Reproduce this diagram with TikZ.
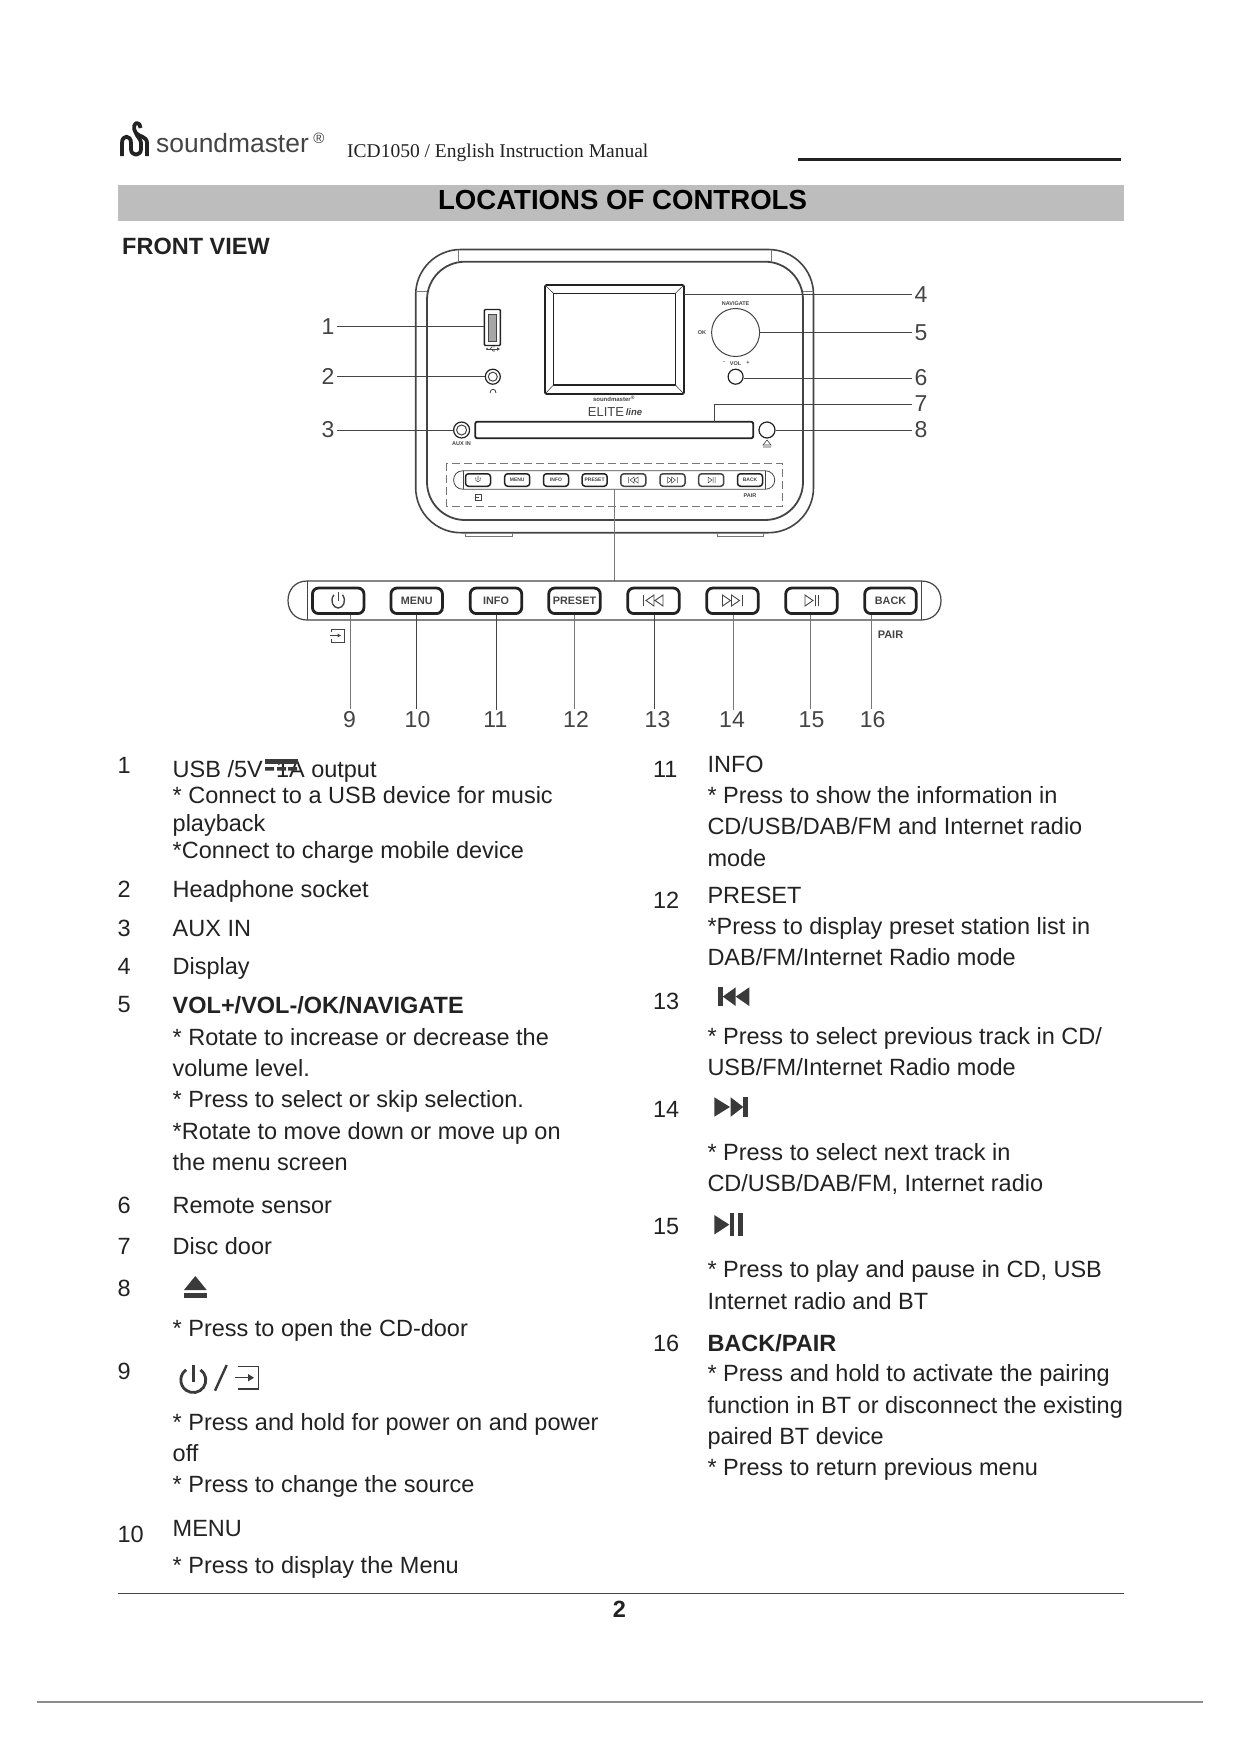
\documentclass[tikz,border=0pt]{standalone}
\usepackage{fontspec}
\setmainfont{Liberation Sans}
\newfontfamily\serifhd{Liberation Serif}
\definecolor{ink}{HTML}{222222}
\definecolor{linegray}{HTML}{444444}
\definecolor{thingray}{HTML}{777777}
\definecolor{barfill}{HTML}{BDBDBD}
\definecolor{iconink}{HTML}{3A3A3A}
\newcount\tcnt
\newcommand{\tx}[3]{\global\advance\tcnt by 1 \node[bodytext] (t\the\tcnt) at (#1,{(#2+7)*1.119}) {#3};}
\newcommand{\bfs}[1]{\fontsize{#1}{#1}\selectfont}
\tikzset{
  bodytext/.style={anchor=base west,inner sep=0pt,outer sep=0pt,text=ink,font=\bfs{23.5}},
  callout/.style={inner sep=0pt,outer sep=2.5pt,text=linegray,font=\bfs{23}},
  leader/.style={draw=linegray,line width=0.8pt},
  leaderthin/.style={draw=thingray,line width=0.8pt},
  bigbtn/.style={draw=ink,line width=2.8pt,rounded corners=6pt,minimum width=51.5pt,minimum height=25.5pt,inner sep=0pt,text=linegray,font=\bfseries\bfs{10.8}},
  smallbtn/.style={draw=ink,line width=1.5pt,rounded corners=3pt,minimum width=25pt,minimum height=12.5pt,inner sep=0pt,text=linegray,font=\bfseries\bfs{5}},
  tiny/.style={inner sep=0pt,text=linegray,font=\bfseries\bfs{5.5}},
  body/.style={draw=linegray,line width=1.6pt},
  round/.style={circle,draw=ink,line width=1.2pt,inner sep=0pt},
  icon/.style={fill=iconink,draw=none},
}
\begin{document}
\begin{tikzpicture}[x=1pt,y=-1pt]
\useasboundingbox (0,0) rectangle (1241,1754);
\fill[white] (0,0) rectangle (1241,1754);

% header
\draw[fill=none,draw=ink,line width=3.8pt,line join=round]
  (122,156) -- (122,143) .. controls (122,134.5) and (131,134.5) .. (131,143) -- (131,149)
  .. controls (131,156.5) and (141,156.5) .. (141,149) -- (141,143) .. controls (141,139) and (137,137) .. (136,133);
\draw[fill=none,draw=ink,line width=3.8pt,line join=round]
  (147,156) -- (147,143) .. controls (147,136) and (139,137) .. (136,133)
  .. controls (132,127) and (135,123) .. (137,123) .. controls (139,123) and (140.5,125) .. (140.5,128);
\node[anchor=base west,inner sep=0pt,text=linegray,font=\bfs{26.4}] (brand) at (156,152) {soundmaster};
\node[anchor=center,inner sep=0pt,text=linegray,font=\bfs{15}] (reg) at (319,138) {®};
\node[anchor=base west,inner sep=0pt,text=ink,font=\serifhd\bfs{19.5}] (hdr) at (347,157) {ICD1050 / English Instruction Manual};
\draw[ink,line width=2.2pt] (798,159.5) -- (1121,159.5);
\fill[barfill] (118,184.5) rectangle (1124,220.5);
\node[anchor=base,inner sep=0pt,text=black,font=\bfseries\bfs{27.6}] (title) at (622.5,209.5) {LOCATIONS OF CONTROLS};
\node[anchor=base west,inner sep=0pt,text=ink,font=\bfseries\bfs{23.5}] (front) at (122,254) {FRONT VIEW};

% radio body
\draw[body,rounded corners=45pt] (415.7,249.5) rectangle (813.5,532.7);
\draw[body,rounded corners=38pt,line width=1.8pt] (427,261.7) rectangle (803,520);
\draw[thingray,line width=0.5pt] (458,250) -- (458,261.7) (771.4,250) -- (771.4,261.7)
  (416,291) -- (427,291) (803,291) -- (813,291);
\draw[thingray,line width=0.8pt,fill=none] (465,532.7) -- (465,536) -- (512,536) -- (512,532.7)
  (717,532.7) -- (717,536) -- (763,536) -- (763,532.7);

% display
\node[draw=ink,line width=1.8pt,rounded corners=1.5pt,minimum width=139pt,minimum height=109pt,inner sep=0pt] (disp) at (614.5,339.5) {};
\draw[ink,line width=1.2pt] (553.4,293.3) rectangle (675.4,385);
\draw[linegray,line width=0.6pt] (545,285) -- (553.4,293.3) (684,285) -- (675.4,293.3)
  (545,394) -- (553.4,385) (684,394) -- (675.4,385);
\node[tiny,font=\bfseries\bfs{6}] (logo2) at (613.5,399) {\,soundmaster\textsuperscript{®}};
\node[inner sep=0pt,text=linegray,font=\bfs{13}] (elite) at (606,412) {ELITE};
\node[inner sep=0pt,text=linegray,font=\itshape\bfseries\bfs{9.5}] (line2) at (634,412) {line};

% USB and sockets
\node[draw=ink,line width=1.4pt,rounded corners=1pt,minimum width=16pt,minimum height=36pt,inner sep=0pt] (usb) at (492.4,327.5) {};
\draw[linegray,line width=1pt,fill=black!35] (488,314) rectangle (496.5,341);
\draw[linegray,line width=0.7pt] (487,349) -- (498,349);
\fill[linegray] (500,349) -- (497,347.3) -- (497,350.7) -- cycle;
\fill[linegray] (487,349) circle[radius=1.1pt];
\draw[linegray,line width=0.6pt] (490,349) -- (492,346.8) -- (495,346.8) (491.5,349) -- (493,351) -- (495,351);
\node[round,minimum size=15pt] (jack) at (492.8,376.7) {};
\draw[linegray,line width=1pt] (jack.center) circle[radius=4.5pt];
\draw[linegray,line width=0.8pt] (490,393) .. controls (490,388) and (496,388) .. (496,393);
\node[round,minimum size=16pt] (aux) at (461.6,430) {};
\draw[linegray,line width=1pt] (aux.center) circle[radius=5pt];
\node[tiny] (auxlbl) at (461.5,444) {AUX IN};
\node[draw=ink,line width=1.8pt,rounded corners=2pt,minimum width=278pt,minimum height=16.5pt,inner sep=0pt] (slot) at (614.2,430) {};
\node[round,minimum size=16pt] (eject) at (767,430) {};
\draw[linegray,line width=0.6pt] (767,440) -- (763,445) -- (771,445) -- cycle (763,447) -- (771,447);

% knob
\node[circle,draw=linegray,line width=1pt,minimum size=48pt,inner sep=0pt] (knob) at (735.6,332.5) {};
\node[tiny] (nav) at (735.6,304) {NAVIGATE};
\node[tiny] (okl) at (702,333) {OK};
\node[tiny] (vol) at (735.6,364) {VOL};
\node[tiny] (volm) at (724,363) {-};
\node[tiny] (volp) at (748,363) {+};
\node[round,minimum size=15pt] (sensor) at (735.6,376.7) {};

% button panel on radio
\draw[thingray,line width=0.8pt,dash pattern=on 8pt off 4pt] (446.5,463.3) rectangle (782.7,506);
\draw[linegray,line width=0.8pt] (463.3,470.7) -- (765,470.7) .. controls (771,470.7) and (774.7,475) .. (774.7,480) .. controls (774.7,485) and (771,489.3) .. (765,489.3) -- (463.3,489.3) .. controls (457,489.3) and (453.6,485) .. (453.6,480) .. controls (453.6,475) and (457,470.7) .. (463.3,470.7);
\draw[linegray,line width=0.5pt] (463.3,470.7) -- (463.3,489.3) (765,470.7) -- (765,489.3);
\node[smallbtn] (s1) at (478,480) {};
\draw[linegray,line width=0.6pt] (478,476) -- (478,480) (475.7,477.5) .. controls (474,483) and (482,483) .. (480.3,477.5);
\node[smallbtn] (s2) at (517.2,480) {MENU};
\node[smallbtn] (s3) at (556,480) {INFO};
\node[smallbtn] (s4) at (594.6,480) {PRESET};
\node[smallbtn,draw=linegray] (s5) at (633.3,480) {};
\node[smallbtn,draw=linegray] (s6) at (672.5,480) {};
\node[smallbtn,draw=linegray] (s7) at (711.2,480) {};
\node[smallbtn] (s8) at (750,480) {BACK};
\draw[linegray,line width=0.5pt] (628.5,477) -- (628.5,483) (634,477) -- (630,480) -- (634,483) -- cycle (638,477) -- (634,480) -- (638,483) -- cycle;
\draw[linegray,line width=0.5pt] (677.5,477) -- (677.5,483) (671.5,477) -- (675.5,480) -- (671.5,483) -- cycle (667.5,477) -- (671.5,480) -- (667.5,483) -- cycle;
\draw[linegray,line width=0.5pt] (708,477) -- (712,480) -- (708,483) -- cycle (713,477) -- (713,483) (715,477) -- (715,483);
\draw[linegray,line width=0.7pt] (475.5,494) rectangle (481,500) (474.5,497) -- (479,497);
\node[tiny] (pairs) at (750,496) {PAIR};

% callouts around radio
\node[callout] (n1) at (328,326.7) {1};
\node[callout] (n2) at (328,376.7) {2};
\node[callout] (n3) at (328,430) {3};
\node[callout] (n4) at (921,294.5) {4};
\node[callout] (n5) at (921,332.5) {5};
\node[callout] (n6) at (921,378) {6};
\node[callout] (n7) at (921,404) {7};
\node[callout] (n8) at (921,430) {8};
\coordinate (d4) at (684,294.5);
\coordinate (s7a) at (714.6,421.7);
\draw[leader] (n1.east) -- (usb.west |- n1.east);
\draw[leader] (n2.east) -- (jack.west);
\draw[leader] (n3.east) -- (aux.west);
\draw[leader] (n4.west) -- (d4);
\draw[leader] (n5.west) -- (knob.east);
\draw[leader] (n6.west) -- (n6.west -| sensor.east);
\draw[leader] (n7.west) -| (s7a);
\draw[leader] (n8.west) -- (eject.east);

% enlarged strip
\coordinate (panelbot) at (614,489.3);
\coordinate (stripmid) at (614,581);
\draw[leaderthin] (panelbot) -- (stripmid);
\draw[linegray,line width=1.2pt] (307,581) -- (921,581) .. controls (934,581) and (941,590) .. (941,600.5) .. controls (941,611) and (934,620) .. (921,620) -- (307,620) .. controls (295,620) and (288,611) .. (288,600.5) .. controls (288,590) and (295,581) .. (307,581);
\draw[linegray,line width=0.8pt] (307,581) -- (307,620) (921,581) -- (921,620);
\node[bigbtn] (B1) at (338.2,600.8) {};
\node[bigbtn] (B2) at (416.7,600.8) {MENU};
\node[bigbtn] (B3) at (496,600.8) {INFO};
\node[bigbtn] (B4) at (574.5,600.8) {PRESET};
\node[bigbtn] (B5) at (653.5,600.8) {};
\node[bigbtn] (B6) at (732.5,600.8) {};
\node[bigbtn] (B7) at (811.5,600.8) {};
\node[bigbtn] (B8) at (890.5,600.8) {BACK};
% button glyphs
\draw[linegray,line width=1.4pt] (338.2,592) -- (338.2,601);
\draw[linegray,line width=1.4pt] (342.5,594.8) .. controls (347,601) and (343,608) .. (338.2,608) .. controls (333.4,608) and (329.4,601) .. (333.9,594.8);
\draw[linegray,line width=0.9pt] (643.5,595) -- (643.5,606) (654,595) -- (646,600.5) -- (654,606) -- cycle (663,595) -- (655,600.5) -- (663,606) -- cycle;
\draw[linegray,line width=0.9pt] (742.5,595) -- (742.5,606) (722.5,595) -- (730.5,600.5) -- (722.5,606) -- cycle (731.5,595) -- (739.5,600.5) -- (731.5,606) -- cycle;
\draw[linegray,line width=0.9pt] (805,595) -- (813,600.5) -- (805,606) -- cycle (815.5,595) -- (815.5,606) (818.5,595) -- (818.5,606);
\draw[linegray,line width=1pt] (331,629) -- (344,629) -- (344,642) -- (331,642) (331,629) -- (331,632) (331,639) -- (331,642);
\draw[linegray,line width=1pt] (330,635.5) -- (340,635.5);
\fill[linegray] (341,635.5) -- (337.5,633.5) -- (337.5,637.5) -- cycle;
\node[inner sep=0pt,text=linegray,font=\bfseries\bfs{11}] (pairb) at (890.5,635) {PAIR};

\node[callout] (n9) at (349.5,720) {9};
\node[callout] (n10) at (417.5,720) {10};
\node[callout] (n11) at (495.4,720) {11};
\node[callout] (n12) at (576,719.5) {12};
\node[callout] (n13) at (657.5,720) {13};
\node[callout] (n14) at (732,720) {14};
\node[callout] (n15) at (811.5,720) {15};
\node[callout] (n16) at (872.7,720) {16};
\coordinate (c9) at (350.4,614.7);
\coordinate (c10) at (416.4,614.7);
\coordinate (c11) at (496,614.7);
\coordinate (c12) at (574.5,614.7);
\coordinate (c13) at (654,614.7);
\coordinate (c14) at (733,614.7);
\coordinate (c15) at (810.6,614.7);
\coordinate (c16) at (871.8,614.7);
\draw[leaderthin] (c9) -- (c9 |- n9.north);
\draw[leader] (c10) -- (c10 |- n10.north);
\draw[leader] (c11) -- (c11 |- n11.north);
\draw[leaderthin] (c12) -- (c12 |- n12.north);
\draw[leader] (c13) -- (c13 |- n13.north);
\draw[leaderthin] (c14) -- (c14 |- n14.north);
\draw[leaderthin] (c15) -- (c15 |- n15.north);
\draw[leaderthin] (c16) -- (c16 |- n16.north);

% left column
\newcommand{\Lx}{172.7}\newcommand{\Nx}{117.5}
\tx{\Nx}{684}{1}
\node[bodytext] (usbline) at (\Lx,777.3) {USB /5V};
\node[bodytext] (usbout) at (276,777.3) {1A output};
\fill[iconink] (265,758.5) rectangle (298,764);
\fill[iconink] (265,767) rectangle (274,770.5) (277,767) rectangle (286,770.5) (288,767) rectangle (297,770.5);
\tx{\Lx}{711}{* Connect to a USB device for music}
\tx{\Lx}{736}{playback}
\tx{\Lx}{760}{*Connect to charge mobile device}
\tx{\Nx}{795}{2}\tx{\Lx}{795}{Headphone socket}
\tx{\Nx}{830}{3}\tx{\Lx}{830}{AUX IN}
\tx{\Nx}{864}{4}\tx{\Lx}{864}{Display}
\tx{\Nx}{898}{5}\tx{\Lx}{899}{\bfseries VOL+/VOL-/OK/NAVIGATE}
\tx{\Lx}{927}{* Rotate to increase or decrease the}
\tx{\Lx}{955}{volume level.}
\tx{\Lx}{983}{* Press to select or skip selection.}
\tx{\Lx}{1011}{*Rotate to move down or move up on}
\tx{\Lx}{1039}{the menu screen}
\tx{\Nx}{1077}{6}\tx{\Lx}{1077}{Remote sensor}
\tx{\Nx}{1114}{7}\tx{\Lx}{1114}{Disc door}
\tx{\Nx}{1152}{8}
\fill[icon] (195.3,1276) -- (206.7,1290) -- (184,1290) -- cycle;
\fill[icon] (184,1292.7) rectangle (206.7,1298.3);
\tx{\Lx}{1187}{* Press to open the CD-door}
\tx{\Nx}{1226}{9}
\draw[iconink,line width=2.8pt] (193.3,1365) -- (193.3,1381.7);
\draw[iconink,line width=2.8pt] (200.5,1369.8) arc[start angle=55,end angle=-235,radius=12.5pt];
\draw[iconink,line width=2.4pt] (226.7,1365) -- (215,1390.7);
\draw[iconink,line width=1.2pt] (238.3,1366.7) -- (258.3,1366.7) -- (258.3,1389) -- (238.3,1389);
\draw[iconink,line width=1.2pt] (235,1377.7) -- (250,1377.7);
\fill[iconink] (254,1377.7) -- (248,1374) -- (248,1381.4) -- cycle;
\tx{\Lx}{1271}{* Press and hold for power on and power}
\tx{\Lx}{1299}{off}
\tx{\Lx}{1327}{* Press to change the source}
\tx{\Nx}{1371}{10}\tx{\Lx}{1366}{MENU}
\tx{\Lx}{1399}{* Press to display the Menu}

% right column
\newcommand{\Rx}{707.5}\newcommand{\Mx}{653}
\tx{\Mx}{688}{11}\tx{\Rx}{683}{INFO}
\tx{\Rx}{711}{* Press to show the information in}
\tx{\Rx}{739}{CD/USB/DAB/FM and Internet radio}
\tx{\Rx}{767}{mode}
\tx{\Mx}{805}{12}\tx{\Rx}{800}{PRESET}
\tx{\Rx}{828}{*Press to display preset station list in}
\tx{\Rx}{856}{DAB/FM/Internet Radio mode}
\tx{\Mx}{895}{13}
\fill[icon] (717.7,987.3) rectangle (722.7,1006);
\fill[icon] (722.7,996.6) -- (735.7,987.3) -- (735.7,1006) -- cycle;
\fill[icon] (735.7,996.6) -- (749.3,987.3) -- (749.3,1006) -- cycle;
\tx{\Rx}{926}{* Press to select previous track in CD/}
\tx{\Rx}{954}{USB/FM/Internet Radio mode}
\tx{\Mx}{992}{14}
\fill[icon] (714.3,1097.3) -- (730,1107) -- (714.3,1116.7) -- cycle;
\fill[icon] (730.7,1097.3) -- (743.3,1107) -- (730.7,1116.7) -- cycle;
\fill[icon] (743.3,1097.3) rectangle (747.7,1116.7);
\tx{\Rx}{1030}{* Press to select next track in}
\tx{\Rx}{1058}{CD/USB/DAB/FM, Internet radio}
\tx{\Mx}{1096}{15}
\fill[icon] (714.3,1215) -- (729.3,1224.6) -- (714.3,1234.5) -- cycle;
\fill[icon] (730,1213.3) rectangle (734.3,1236);
\fill[icon] (738.3,1213.3) rectangle (742.7,1236);
\tx{\Rx}{1135}{* Press to play and pause in CD, USB}
\tx{\Rx}{1163}{Internet radio and BT}
\tx{\Mx}{1201}{16}\tx{\Rx}{1201}{\bfseries BACK/PAIR}
\tx{\Rx}{1228}{* Press and hold to activate the pairing}
\tx{\Rx}{1256}{function in BT or disconnect the existing}
\tx{\Rx}{1284}{paired BT device}
\tx{\Rx}{1312}{* Press to return previous menu}

% footer
\draw[linegray,line width=1.2pt] (118,1593.5) -- (1124,1593.5);
\node[anchor=base,inner sep=0pt,text=ink,font=\bfseries\bfs{23.5}] (pg) at (619.5,1617) {2};
\draw[black!45,line width=1.2pt] (37,1702) -- (1203,1702);
\end{tikzpicture}
\end{document}
